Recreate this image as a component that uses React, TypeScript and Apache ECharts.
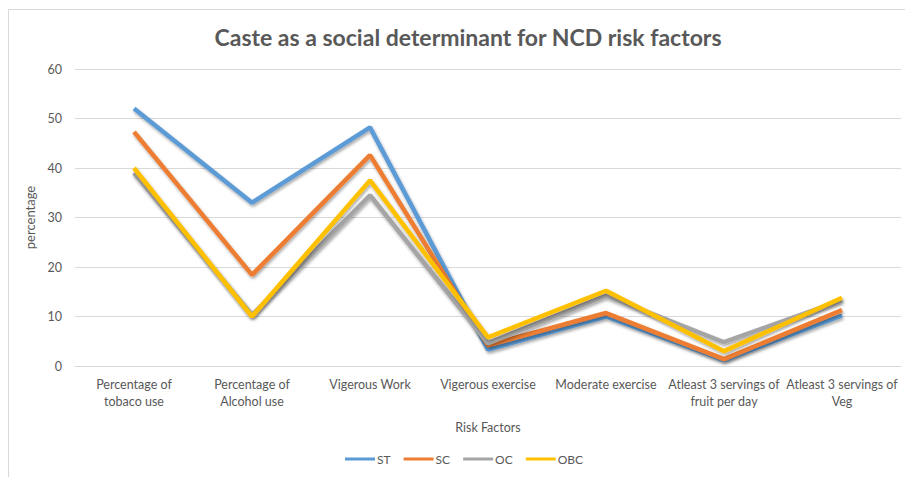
import React, { useEffect, useRef } from "react";
import * as echarts from "echarts";

const categories = [
  "Percentage of\ntobaco use",
  "Percentage of\nAlcohol use",
  "Vigerous Work",
  "Vigerous exercise",
  "Moderate exercise",
  "Atleast 3 servings of\nfruit per day",
  "Atleast 3 servings of\nVeg",
];
const seriesNames = ["ST", "SC", "OC", "OBC"];
const ST = [52, 33, 48.2, 3.3, 10, 1.2, 10.2];
const SC = [47.3, 18.4, 42.6, 4.2, 10.7, 1.4, 11.3];
const OC = [39, 10.3, 34.5, 4.6, 14.2, 4.8, 13.3];
const OBC = [40, 10, 37.5, 5.8, 15.2, 3, 13.8];
const seriesValues = [ST, SC, OC, OBC];
const colors = ["#5B9BD5", "#ED7D31", "#A5A5A5", "#FFC000"];
const yTicks = { min: 0, max: 60, interval: 10 };

const FONT = "Lato";

export default function App() {
  const ref = useRef<HTMLDivElement>(null);
  useEffect(() => {
    document.body.style.margin = "0";
    const chart = echarts.init(ref.current!, undefined, { renderer: "svg" });
    chart.setOption({
      animation: false,
      backgroundColor: "#ffffff",
      color: colors,
      graphic: [
        {
          type: "rect",
          shape: { x: 8.5, y: 9.5, width: 1200, height: 1200 },
          style: { fill: "none", stroke: "#D9D9D9", lineWidth: 1 },
          silent: true,
          z: -10,
        },
      ],
      title: {
        text: "Caste as a social determinant for NCD risk factors",
        left: 463,
        textAlign: "center",
        top: 20,
        textStyle: {
          fontFamily: FONT,
          fontSize: 23,
          fontWeight: "bold",
          color: "#595959",
        },
      },
      legend: {
        data: seriesNames,
        bottom: 7,
        left: 340,
        icon: "rect",
        itemWidth: 30,
        itemHeight: 3,
        itemGap: 13,
        textStyle: { fontFamily: FONT, fontSize: 12, color: "#595959", padding: [0, 0, 0, -3] },
      },
      grid: { left: 75, right: 4, top: 69, bottom: 111, containLabel: false },
      xAxis: {
        type: "category",
        data: categories,
        boundaryGap: true,
        name: "Risk Factors",
        nameLocation: "middle",
        nameGap: 55,
        nameTextStyle: { fontFamily: FONT, fontSize: 12.5, color: "#595959" },
        axisLine: { show: true, lineStyle: { color: "#D9D9D9", width: 1 } },
        axisTick: { show: false },
        axisLabel: {
          interval: 0,
          margin: 10,
          fontFamily: FONT,
          fontSize: 12.5,
          lineHeight: 17,
          color: "#595959",
        },
      },
      yAxis: {
        type: "value",
        min: yTicks.min,
        max: yTicks.max,
        interval: yTicks.interval,
        name: "percentage",
        nameLocation: "middle",
        nameGap: 36,
        nameTextStyle: { fontFamily: FONT, fontSize: 13, color: "#595959" },
        axisLine: { show: false },
        axisTick: { show: false },
        axisLabel: { margin: 13, fontFamily: FONT, fontSize: 12.5, color: "#595959" },
        splitLine: { lineStyle: { color: "#D9D9D9", width: 1 } },
      },
      series: seriesNames.map((n, i) => ({
        name: n,
        type: "line",
        data: seriesValues[i],
        symbol: "none",
        lineStyle: {
          width: 4.5,
          color: colors[i],
          shadowColor: "rgba(0,0,0,0.35)",
          shadowBlur: 3,
          shadowOffsetX: 1,
          shadowOffsetY: 2,
        },
      })),
    });
    return () => chart.dispose();
  }, []);
  return <div ref={ref} style={{ width: 905, height: 477 }} />;
}
